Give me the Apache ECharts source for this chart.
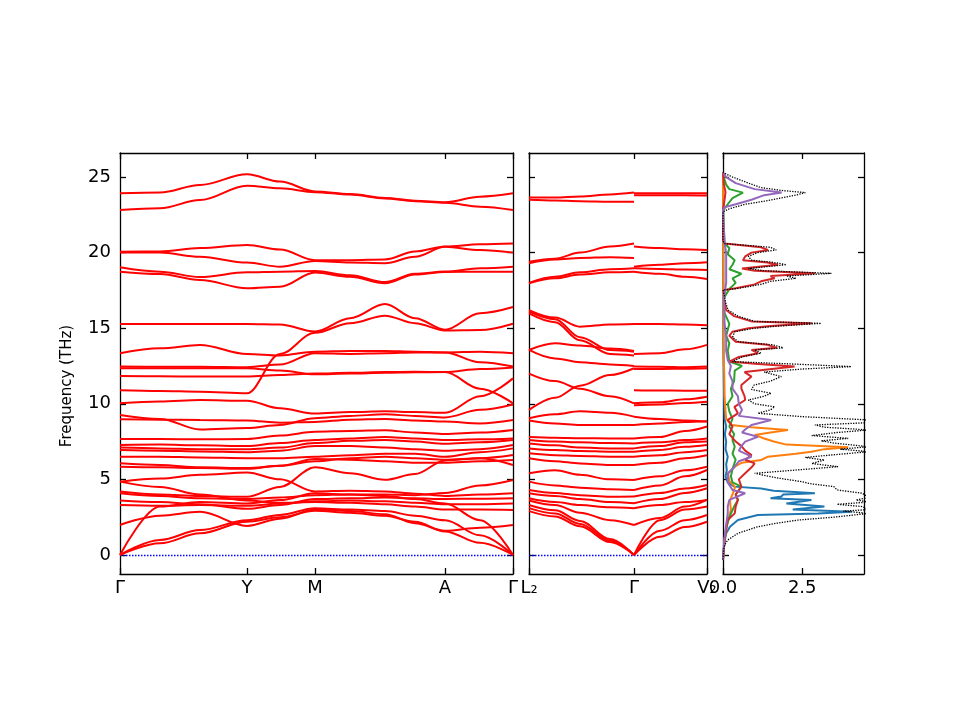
<!DOCTYPE html>
<html lang="en">
<head>
    <meta charset="UTF-8">
    <title>Phonon bands and DOS</title>
    <script src="https://cdn.jsdelivr.net/npm/echarts@6/dist/echarts.min.js"></script>
    <style>
        html, body { margin: 0; padding: 0; background: #fff; }
        #main { width: 960px; height: 720px; }
    </style>
</head>
<body>
<div id="main"></div>
<script type="text/javascript">
    // ---- band structure, panel 1 (Γ - Y - M - A - Γ) ----
    const kPath1 = [0, 40, 80, 127, 160, 195, 230, 265, 295, 325, 360, 393];
    const kTicks1 = [0, 127, 195, 325, 393];
    const kLabels1 = ['Γ', 'Y', 'M', 'A', 'Γ'];
    const bands1 = [
        [23.92, 23.97, 24.47, 25.18, 24.7, 24.05, 23.88, 23.62, 23.43, 23.33, 23.7, 23.92],
        [22.82, 22.93, 23.48, 24.43, 24.25, 24.0, 23.84, 23.58, 23.4, 23.3, 23.04, 22.82],
        [20.06, 20.08, 20.3, 20.5, 20.2, 19.5, 19.5, 19.55, 20.07, 20.4, 20.55, 20.6],
        [20.0, 20.0, 19.73, 19.34, 19.07, 19.45, 19.35, 19.3, 19.73, 20.38, 20.17, 20.0],
        [19.03, 18.74, 18.38, 18.7, 18.74, 18.78, 18.5, 18.05, 18.6, 18.75, 18.96, 19.07],
        [18.74, 18.59, 18.19, 17.64, 17.75, 18.68, 18.4, 17.97, 18.55, 18.72, 18.74, 18.74],
        [15.28, 15.28, 15.28, 15.28, 15.25, 14.78, 15.66, 16.6, 15.66, 14.9, 15.99, 16.4],
        [10.9, 10.85, 10.8, 10.7, 13.3, 14.7, 15.33, 15.83, 15.33, 14.85, 14.88, 15.3],
        [13.34, 13.67, 13.89, 13.3, 13.19, 13.45, 13.5, 13.5, 13.45, 13.4, 13.45, 13.35],
        [12.46, 12.45, 12.45, 12.42, 12.6, 13.35, 13.3, 13.35, 13.4, 13.4, 12.75, 12.46],
        [12.35, 12.35, 12.35, 12.35, 12.2, 11.95, 12.0, 12.05, 12.08, 12.1, 12.3, 12.4],
        [11.84, 11.82, 11.8, 11.8, 11.9, 12.0, 12.05, 12.1, 12.12, 12.1, 11.0, 10.03],
        [10.03, 10.15, 10.25, 10.2, 9.7, 9.35, 9.45, 9.5, 9.45, 9.4, 10.5, 11.68],
        [9.26, 9.0, 8.3, 8.4, 8.6, 9.05, 9.2, 9.3, 9.2, 9.1, 9.6, 9.95],
        [8.97, 8.95, 8.93, 8.9, 8.75, 8.8, 8.95, 9.0, 8.9, 8.82, 8.7, 8.93],
        [7.67, 7.67, 7.65, 7.67, 7.9, 8.15, 8.2, 8.25, 8.1, 8.0, 8.1, 8.27],
        [7.27, 7.3, 7.25, 7.2, 7.4, 7.6, 7.7, 7.8, 7.7, 7.6, 7.65, 7.71],
        [7.1, 7.05, 7.0, 7.0, 7.1, 7.4, 7.55, 7.6, 7.5, 7.35, 7.45, 7.6],
        [6.94, 6.9, 6.85, 6.8, 6.9, 7.2, 7.2, 7.1, 7.0, 6.9, 7.0, 7.27],
        [6.5, 6.5, 6.45, 6.4, 6.4, 6.5, 6.6, 6.7, 6.7, 6.5, 6.8, 7.05],
        [6.06, 5.95, 5.8, 5.75, 5.9, 6.2, 6.4, 6.5, 6.4, 6.3, 6.4, 6.61],
        [5.84, 5.8, 5.75, 5.7, 5.9, 6.35, 6.3, 6.2, 6.1, 6.1, 6.2, 6.28],
        [4.19, 4.0, 3.9, 3.85, 4.5, 5.8, 5.4, 4.97, 5.35, 6.25, 6.4, 5.95],
        [4.85, 5.05, 5.3, 5.45, 5.0, 4.2, 4.25, 4.2, 4.05, 3.9, 4.0, 4.08],
        [4.85, 4.5, 4.0, 3.6, 3.45, 3.5, 3.45, 3.35, 3.2, 3.0, 3.0, 2.98],
        [4.08, 3.9, 3.75, 3.7, 3.8, 3.95, 4.0, 4.0, 3.95, 4.1, 4.6, 4.96],
        [3.6, 3.5, 3.35, 3.05, 3.3, 3.7, 3.75, 3.8, 3.75, 3.7, 3.72, 3.75],
        [3.3, 3.25, 3.3, 3.25, 3.4, 3.55, 3.6, 3.55, 3.45, 3.35, 3.35, 3.4],
        [1.98, 2.6, 2.85, 1.92, 2.4, 3.0, 2.9, 2.7, 2.1, 1.6, 1.8, 1.98],
        [0, 3.2, 3.5, 3.4, 3.63, 4.08, 4.0, 3.9, 3.7, 3.4, 2.3, 0],
        [0, 0.99, 1.65, 2.3, 2.65, 3.09, 3.0, 2.9, 2.6, 2.3, 1.3, 0],
        [0, 0.77, 1.43, 2.2, 2.49, 2.93, 2.8, 2.6, 2.2, 1.55, 0.8, 0]
    ];

    // ---- band structure, panel 2 (L2 - Γ | Γ - V2) ----
    const kPath2L = [0, 26, 51, 81, 105];
    const kPath2R = [105, 131, 156, 178];
    const kTicks2 = [0, 105, 178];
    const kLabels2 = ['L₂', 'Γ', 'V₂'];
    const bands2L = [
        [23.64, 23.65, 23.72, 23.85, 23.97],
        [23.5, 23.45, 23.4, 23.37, 23.37],
        [19.4, 19.6, 20.0, 20.4, 20.6],
        [19.3, 19.55, 19.65, 19.7, 19.65],
        [18.0, 18.4, 18.7, 18.9, 18.96],
        [17.97, 18.3, 18.55, 18.7, 18.74],
        [16.2, 15.7, 15.1, 15.25, 15.28],
        [16.1, 15.6, 14.4, 13.55, 13.45],
        [15.98, 15.4, 14.2, 13.3, 13.2],
        [13.56, 14.0, 13.85, 13.65, 13.5],
        [13.56, 13.0, 12.75, 12.6, 12.5],
        [12.0, 11.5, 11.0, 10.5, 10.03],
        [9.6, 10.4, 11.2, 11.9, 12.35],
        [9.04, 9.3, 9.5, 9.4, 9.15],
        [8.9, 8.7, 8.6, 8.6, 8.6],
        [7.8, 7.75, 7.72, 7.71, 7.71],
        [7.6, 7.5, 7.45, 7.4, 7.38],
        [7.38, 7.25, 7.1, 7.05, 7.05],
        [7.05, 6.95, 6.88, 6.83, 6.83],
        [6.72, 6.6, 6.55, 6.5, 6.5],
        [6.39, 6.2, 6.05, 5.95, 5.95],
        [5.4, 5.6, 5.3, 5.0, 4.96],
        [4.85, 4.6, 4.45, 4.35, 4.3],
        [4.3, 4.1, 3.95, 3.85, 3.86],
        [4.08, 3.9, 3.7, 3.5, 3.42],
        [3.75, 3.5, 3.3, 3.15, 3.09],
        [3.6, 3.3, 2.8, 2.3, 1.98],
        [3.3, 2.95, 2.25, 1.05, 0],
        [3.1, 2.75, 2.05, 0.95, 0],
        [2.9, 2.55, 1.9, 0.85, 0]
    ];
    const bands2R = [
        [23.92, 23.92, 23.92, 23.93],
        [23.8, 23.8, 23.8, 23.78],
        [20.4, 20.3, 20.22, 20.17],
        [19.07, 19.2, 19.3, 19.36],
        [18.96, 18.92, 18.88, 18.85],
        [18.74, 18.6, 18.4, 18.26],
        [15.28, 15.28, 15.25, 15.2],
        [13.3, 13.35, 13.6, 13.9],
        [12.46, 12.45, 12.42, 12.46],
        [12.3, 12.3, 12.32, 12.35],
        [10.9, 10.88, 10.87, 10.87],
        [10.03, 10.1, 10.3, 10.47],
        [9.9, 9.95, 10.05, 10.14],
        [9.15, 9.0, 8.9, 8.82],
        [8.6, 8.7, 8.8, 8.85],
        [7.71, 7.8, 8.2, 8.5],
        [7.38, 7.45, 7.6, 7.71],
        [7.05, 7.2, 7.45, 7.5],
        [6.83, 6.95, 7.15, 7.27],
        [6.5, 6.6, 6.8, 6.94],
        [5.95, 6.1, 6.4, 6.6],
        [4.96, 5.2, 5.6, 5.84],
        [4.3, 4.6, 5.2, 5.62],
        [3.86, 4.1, 4.4, 4.63],
        [3.42, 3.7, 4.1, 4.41],
        [3.09, 3.3, 3.5, 3.64],
        [1.98, 2.45, 3.2, 3.64],
        [0, 2.3, 3.0, 3.2],
        [0, 1.6, 2.3, 2.64],
        [0, 1.2, 1.85, 2.2]
    ];

    // ---- density of states (frequency, dos) ----
    const dosTotF = [-0.3, 0.3, 0.66, 0.99, 1.43, 1.87, 2.1, 2.31, 2.5, 2.75, 2.9, 3.0, 3.2, 3.35, 3.5, 3.64, 3.8, 4.08, 4.3, 4.52, 4.7, 4.85, 5.1, 5.4, 5.6, 5.84, 6.05, 6.28, 6.45, 6.61, 6.83, 7.0, 7.16, 7.4, 7.55, 7.71, 7.9, 8.1, 8.27, 8.45, 8.6, 8.75, 8.93, 9.15, 9.37, 9.6, 9.8, 10.0, 10.25, 10.5, 10.7, 10.95, 11.24, 11.5, 11.8, 12.1, 12.3, 12.46, 12.65, 12.79, 13.1, 13.35, 13.56, 13.7, 13.9, 14.1, 14.4, 14.77, 15.0, 15.15, 15.32, 15.45, 15.8, 16.2, 16.7, 17.1, 17.53, 17.64, 17.9, 18.1, 18.3, 18.45, 18.63, 18.8, 18.95, 19.2, 19.35, 19.5, 19.75, 20.0, 20.18, 20.35, 20.6, 20.8, 22.7, 22.9, 23.2, 23.4, 23.6, 23.8, 23.97, 24.1, 24.3, 24.6, 25.0, 25.3];
    const dosTotV = [0, 0.02, 0.05, 0.15, 0.47, 1.1, 1.7, 2.37, 3.5, 4.6, 3.8, 4.6, 4.4, 3.6, 4.6, 4.2, 4.6, 4.4, 3.6, 3.5, 2.8, 2.47, 1.7, 1.0, 2.2, 3.63, 2.8, 3.2, 2.6, 3.4, 4.6, 3.7, 4.6, 3.5, 3.1, 3.95, 2.8, 3.6, 4.6, 3.2, 2.9, 4.6, 4.6, 2.5, 1.1, 1.5, 1.63, 1.0, 0.8, 1.3, 1.52, 0.9, 0.98, 1.5, 1.84, 1.3, 2.5, 4.05, 2.0, 0.3, 0.6, 1.2, 1.0, 1.9, 1.58, 0.5, 0.3, 0.37, 1.0, 1.8, 3.1, 1.0, 0.47, 0.16, 0.08, 0.05, 0, 0.5, 1.2, 1.5, 2.3, 2.0, 3.42, 1.3, 0.8, 2.0, 1.6, 0.9, 0.8, 1.1, 1.68, 1.5, 0.05, 0, 0, 0.2, 0.7, 1.3, 1.8, 2.3, 2.6, 1.9, 1.2, 0.8, 0.3, 0];

    const dosBlueF = [-0.3, 0.5, 1.0, 1.43, 1.87, 2.31, 2.64, 2.75, 2.86, 3.0, 3.2, 3.4, 3.64, 3.75, 3.86, 4.0, 4.08, 4.25, 4.4, 4.52, 4.8, 5.2, 5.6, 6.0, 6.5, 7.0, 7.5, 8.0, 8.5, 9.0, 10.0, 11.0, 12.5, 14.0, 25.3];
    const dosBlueV = [0, 0.03, 0.06, 0.1, 0.22, 0.47, 1.1, 3.0, 4.05, 2.2, 3.2, 2.0, 2.79, 1.5, 1.84, 1.9, 2.9, 1.6, 1.2, 0.36, 0.15, 0.08, 0.12, 0.1, 0.15, 0.08, 0.1, 0.06, 0.1, 0.05, 0.04, 0.03, 0.02, 0.01, 0];

    const dosOrangeF = [-0.3, 1.0, 1.6, 2.2, 2.6, 3.0, 3.6, 4.0, 4.5, 4.9, 5.4, 5.84, 6.1, 6.28, 6.5, 6.7, 6.83, 7.0, 7.12, 7.3, 7.5, 7.7, 7.94, 8.1, 8.27, 8.45, 8.6, 9.0, 9.5, 10.5, 12.0, 13.0, 25.3];
    const dosOrangeV = [0, 0.05, 0.1, 0.15, 0.2, 0.25, 0.22, 0.3, 0.38, 0.2, 0.16, 0.37, 0.6, 1.2, 1.42, 2.3, 2.79, 3.2, 3.95, 2.0, 1.6, 1.3, 1.0, 1.5, 2.05, 0.9, 0.26, 0.1, 0.08, 0.05, 0.04, 0.02, 0];

    const dosGreenF = [-0.3, 1.0, 1.8, 2.5, 3.2, 3.64, 4.0, 4.52, 4.8, 5.2, 5.7, 6.3, 6.7, 7.16, 7.6, 8.0, 8.5, 9.0, 9.5, 10.0, 10.5, 11.0, 11.5, 12.2, 12.5, 12.8, 13.5, 14.0, 14.5, 15.3, 16.0, 17.0, 17.6, 18.0, 18.3, 18.6, 18.9, 19.2, 19.5, 19.9, 20.3, 20.6, 22.8, 23.2, 23.6, 23.97, 24.2, 24.5, 25.0, 25.3];
    const dosGreenV = [0, 0.05, 0.1, 0.2, 0.35, 0.47, 0.4, 0.58, 0.3, 0.25, 0.3, 0.4, 0.3, 0.37, 0.3, 0.35, 0.2, 0.3, 0.2, 0.15, 0.3, 0.25, 0.35, 0.37, 0.6, 0.2, 0.15, 0.2, 0.1, 0.2, 0.05, 0.03, 0.2, 0.4, 0.3, 0.58, 0.2, 0.3, 0.37, 0.15, 0.2, 0.05, 0, 0.15, 0.3, 0.63, 0.2, 0.1, 0.02, 0];

    const dosRedF = [-0.3, 1.0, 2.0, 2.31, 2.75, 3.2, 3.64, 4.0, 4.52, 5.0, 5.4, 5.8, 6.06, 6.3, 6.6, 6.9, 7.2, 7.5, 8.0, 8.5, 8.93, 9.37, 9.8, 10.25, 10.5, 11.0, 11.24, 11.8, 12.1, 12.46, 12.65, 12.79, 13.1, 13.35, 13.56, 13.7, 13.9, 14.1, 14.5, 14.77, 15.0, 15.15, 15.32, 15.45, 15.8, 16.2, 17.0, 17.53, 17.64, 17.9, 18.1, 18.3, 18.45, 18.63, 18.8, 18.95, 19.2, 19.35, 19.5, 19.75, 20.0, 20.18, 20.35, 20.6, 20.8, 22.8, 23.5, 24.0, 24.5, 25.3];
    const dosRedV = [0, 0.05, 0.12, 0.15, 0.37, 0.4, 0.47, 0.4, 0.58, 0.5, 0.7, 0.9, 1.0, 0.7, 0.9, 0.7, 0.58, 0.4, 0.2, 0.3, 0.15, 0.47, 0.36, 0.7, 0.68, 0.58, 0.58, 0.9, 0.68, 2.26, 1.0, 0.2, 0.5, 1.1, 0.9, 1.7, 1.4, 0.4, 0.2, 0.3, 0.8, 1.5, 2.8, 0.9, 0.35, 0.1, 0.03, 0.05, 0.4, 1.0, 1.2, 1.63, 1.5, 2.9, 1.0, 0.6, 1.74, 1.4, 0.63, 0.7, 0.9, 1.42, 1.2, 0.05, 0, 0, 0.05, 0.08, 0.03, 0];

    const dosPurpleF = [-0.3, 1.0, 2.0, 2.75, 3.2, 3.64, 4.08, 4.3, 4.8, 5.4, 5.84, 6.2, 6.5, 6.9, 7.2, 7.5, 7.82, 8.1, 8.3, 8.6, 8.93, 9.2, 9.6, 10.0, 10.5, 11.0, 11.5, 12.0, 12.5, 12.9, 13.5, 14.5, 15.3, 17.0, 18.0, 19.0, 20.0, 20.6, 22.8, 23.0, 23.2, 23.5, 23.8, 23.97, 24.2, 24.6, 25.0, 25.3];
    const dosPurpleV = [0, 0.04, 0.1, 0.15, 0.15, 0.2, 0.7, 0.3, 0.15, 0.16, 0.37, 0.5, 0.9, 0.5, 0.58, 0.7, 1.1, 0.6, 0.7, 0.9, 1.52, 0.5, 0.6, 0.5, 0.47, 0.3, 0.3, 0.2, 0.25, 0.15, 0.1, 0.1, 0.05, 0.03, 0.1, 0.1, 0.1, 0.05, 0, 0.05, 0.4, 0.9, 1.3, 1.85, 1.0, 0.4, 0.1, 0];

    const dosTicks = [0, 2.5];
    const freqTicks = [0, 5, 10, 15, 20, 25];

    const FONT = 'DejaVu Sans';
    const fMin = -1.26, fMax = 26.59;

    function bandSeries(kPath, band, xi, yi, withZero) {
        let s = {
            type: 'line',
            xAxisIndex: xi,
            yAxisIndex: yi,
            data: kPath.map(function (k, i) { return [k, band[i]]; }),
            smooth: 0.35,
            smoothMonotone: 'x',
            showSymbol: false,
            symbol: 'none',
            silent: true,
            lineStyle: {color: '#ff0000', width: 2},
            z: 3
        };
        if (withZero) {
            s.markLine = {
                silent: true,
                symbol: 'none',
                label: {show: false},
                itemStyle: {color: '#0000ff'},
                lineStyle: {color: '#0000ff', type: [1.5, 1.5], width: 1.3, opacity: 1},
                emphasis: {disabled: true},
                data: [{yAxis: 0}],
                z: 2
            };
        }
        return s;
    }

    function dosSeries(fs, vs, color, width, dotted) {
        return {
            type: 'line',
            xAxisIndex: 2,
            yAxisIndex: 2,
            data: fs.map(function (f, i) { return [vs[i], f]; }),
            showSymbol: false,
            symbol: 'none',
            silent: true,
            lineStyle: {color: color, width: width, type: dotted ? 'dotted' : 'solid'},
            z: dotted ? 5 : 4
        };
    }

    function xAxisFor(grid, max, ticks, labels, top) {
        return {
            type: 'value',
            gridIndex: grid,
            position: top ? 'top' : 'bottom',
            min: 0,
            max: max,
            splitLine: {show: false},
            axisLine: {show: true, onZero: false, lineStyle: {color: '#000', width: 1.3}},
            axisTick: {show: true, inside: true, length: 6, customValues: ticks, lineStyle: {color: '#000', width: 1.3}},
            axisLabel: {
                show: !top,
                customValues: ticks,
                margin: 5,
                color: '#000',
                fontFamily: FONT,
                fontSize: 18,
                formatter: function (v) {
                    let i = ticks.indexOf(v);
                    return labels ? labels[i] : v.toFixed(1);
                }
            }
        };
    }

    function yAxisFor(grid, right, showLabel) {
        return {
            type: 'value',
            gridIndex: grid,
            position: right ? 'right' : 'left',
            min: fMin,
            max: fMax,
            splitLine: {show: false},
            axisLine: {show: true, onZero: false, lineStyle: {color: '#000', width: 1.3}},
            axisTick: {show: true, inside: true, length: 6, customValues: freqTicks, lineStyle: {color: '#000', width: 1.3}},
            axisLabel: {
                show: showLabel,
                customValues: freqTicks,
                margin: 9,
                color: '#000',
                fontFamily: FONT,
                fontSize: 18
            }
        };
    }

    let series = [];
    bands1.forEach(function (b, i) { series.push(bandSeries(kPath1, b, 0, 0, i === 0)); });
    bands2L.forEach(function (b, i) { series.push(bandSeries(kPath2L, b, 1, 1, i === 0)); });
    bands2R.forEach(function (b) { series.push(bandSeries(kPath2R, b, 1, 1, false)); });
    series.push(dosSeries(dosBlueF, dosBlueV, '#1f77b4', 2));
    series.push(dosSeries(dosOrangeF, dosOrangeV, '#ff7f0e', 2));
    series.push(dosSeries(dosGreenF, dosGreenV, '#2ca02c', 2));
    series.push(dosSeries(dosRedF, dosRedV, '#d62728', 2));
    series.push(dosSeries(dosPurpleF, dosPurpleV, '#9467bd', 2));
    series.push(dosSeries(dosTotF, dosTotV, '#000000', 1.3, true));

    let chart = echarts.init(document.getElementById('main'), null, {renderer: 'canvas'});
    let option = {
        animation: false,
        backgroundColor: '#ffffff',
        grid: [
            {left: 120, top: 153, width: 393, height: 421},
            {left: 529, top: 153, width: 178, height: 421},
            {left: 723, top: 153, width: 141, height: 421}
        ],
        xAxis: [
            xAxisFor(0, 393, kTicks1, kLabels1, false),
            xAxisFor(1, 178, kTicks2, kLabels2, false),
            xAxisFor(2, 4.45, dosTicks, null, false),
            xAxisFor(0, 393, kTicks1, kLabels1, true),
            xAxisFor(1, 178, kTicks2, kLabels2, true),
            xAxisFor(2, 4.45, dosTicks, null, true)
        ],
        yAxis: [
            yAxisFor(0, false, true),
            yAxisFor(1, false, false),
            yAxisFor(2, false, false),
            yAxisFor(0, true, false),
            yAxisFor(1, true, false),
            yAxisFor(2, true, false)
        ],
        graphic: [{
            type: 'text',
            x: 67,
            y: 386,
            rotation: Math.PI / 2,
            style: {
                text: 'Frequency (THz)',
                fontFamily: FONT,
                fontSize: 15,
                fill: '#000',
                align: 'center',
                verticalAlign: 'middle'
            }
        }],
        series: series
    };
    chart.setOption(option);
</script>
</body>
</html>
